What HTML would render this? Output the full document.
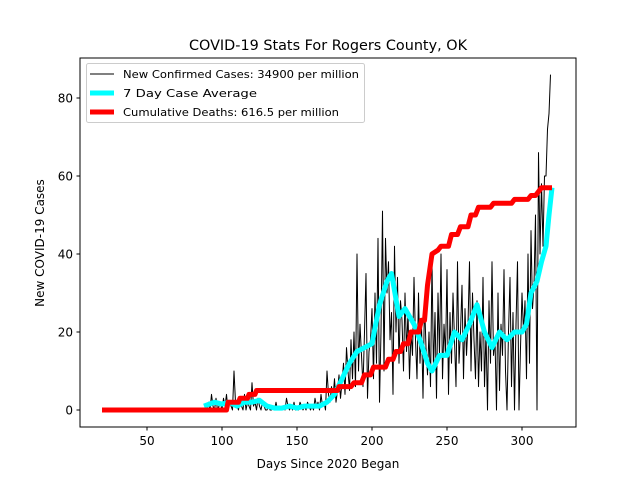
<!DOCTYPE html>
<html><head><meta charset="utf-8"><style>
body{margin:0;background:#fff;}
svg{display:block;font-family:"DejaVu Sans","Liberation Sans",sans-serif;}
</style></head><body>
<svg id="chart" width="640" height="480" xmlns="http://www.w3.org/2000/svg">
<rect width="640" height="480" fill="#fff"/>
<text x="328" y="50" text-anchor="middle" font-size="14.4">COVID-19 Stats For Rogers County, OK</text>
<g id="plot"></g>
<rect x="80" y="58" width="496" height="369" fill="none" stroke="#000" stroke-width="1"/>
<g id="ticks"></g>
<text x="328" y="468" text-anchor="middle" font-size="12">Days Since 2020 Began</text>
<text x="0" y="0" transform="translate(44,243) rotate(-90)" text-anchor="middle" font-size="12">New COVID-19 Cases</text>
<g>
<rect x="86.5" y="63.5" width="278" height="59" rx="2" fill="#fff" fill-opacity="0.8" stroke="#ccc"/>
<line x1="90" y1="74" x2="114" y2="74" stroke="#000" stroke-width="1"/>
<text x="123" y="78" font-size="11" textLength="236" lengthAdjust="spacingAndGlyphs">New Confirmed Cases: 34900 per million</text>
<line x1="90" y1="93" x2="114" y2="93" stroke="#00ffff" stroke-width="5"/>
<text x="123" y="97" font-size="11" textLength="134" lengthAdjust="spacingAndGlyphs">7 Day Case Average</text>
<line x1="90" y1="112" x2="114" y2="112" stroke="#ff0000" stroke-width="5"/>
<text x="123" y="116" font-size="11" textLength="216" lengthAdjust="spacingAndGlyphs">Cumulative Deaths: 616.5 per million</text>
</g>
</svg>
<script>
const caseStartDay = 88;
const cases = [0,1,0,2,0,4,1,0,3,0,1,2,
0,3,1,4,0,2,1,0,10,2,1,0,3,1,0,4,0,2,1,0,
7,1,2,0,3,1,0,2,1,0,
0,1,0,0,1,0,2,0,1,0,0,1,0,3,1,0,1,0,2,0,
1,0,2,1,0,1,0,2,1,0,1,0,3,1,2,0,4,1,2,0,
10,4,2,6,3,8,2,5,9,3,
7,12,4,16,10,5,18,8,20,6,
40,10,22,14,6,20,35,3,15,18,
26,8,30,12,44,2,20,51,10,44,
30,38,18,25,4,42,20,34,12,28,
23,10,30,15,25,8,20,14,34,18,
8,30,12,22,3,28,16,9,20,6,
38,10,25,3,30,14,40,8,22,14,
36,4,25,12,30,18,6,38,12,20,
32,8,26,14,22,38,10,30,18,8,
28,6,20,10,34,6,20,0,28,12,
38,14,18,0,30,5,22,14,36,10,
0,20,34,6,25,0,22,38,0,16,
30,20,28,8,40,12,46,26,32,50,
0,66,40,58,42,60,60,72,76,86];
const avgDays = [88,95,100,105,110,115,120,125,130,135,140,145,150,155,160,165,170,175,180,185,190,195,200,205,210,213,218,222,228,232,237,240,245,250,255,260,265,270,275,280,285,290,295,300,303,306,310,313,316,318,320];
const avgVals = [1,2,1.5,2,1,2,2,2.5,1,0.5,0.5,1,0.5,1,1,1,2,4,8,12,15,16,17,27,33,35,24,26,22,18,12,10,14,14,20,18,22,27,20,16,20,18,20,20,22,30,33,38,42,50,57];
const deathDays = [20,103,104,111,112,117,118,122,123,177,178,186,188,193,195,199,201,209,211,214,216,219,221,224,226,231,233,235,237,240,244,246,251,253,257,259,264,266,269,271,279,281,293,295,304,306,309,311,313,320];
const deathVals = [0,0,2,2,3,3,4,4,5,5,6,6,7,7,9,9,11,11,13,13,15,15,17,17,20,20,23,23,32,40,41,42,42,45,45,47,47,50,50,52,52,53,53,54,54,55,55,56,57,57];
const xTicks = [50,100,150,200,250,300];
const yTicks = [0,20,40,60,80];

const NS = "http://www.w3.org/2000/svg";
const xs = d => 72 + d * 1.5;
const ys = v => 410 - v * 3.9;
const plot = document.getElementById('plot');
const ticks = document.getElementById('ticks');

function poly(days, vals, color, w, name) {
  const p = document.createElementNS(NS, 'polyline');
  p.setAttribute('points', days.map((d, i) => xs(d).toFixed(1) + ',' + ys(vals[i]).toFixed(1)).join(' '));
  p.setAttribute('fill', 'none');
  p.setAttribute('stroke', color);
  p.setAttribute('stroke-width', w);
  p.setAttribute('stroke-linejoin', 'round');
  
  
  plot.appendChild(p);
}
const caseDays = cases.map((v, i) => caseStartDay + i);
poly(caseDays, cases, '#000', 1, 'new-cases-line');
poly(avgDays, avgVals, '#00ffff', 5, 'seven-day-average-line');
poly(deathDays, deathVals, '#ff0000', 5, 'cumulative-deaths-line');

xTicks.forEach(t => {
  const l = document.createElementNS(NS, 'line');
  l.setAttribute('x1', xs(t)); l.setAttribute('x2', xs(t));
  l.setAttribute('y1', 427); l.setAttribute('y2', 430.5);
  l.setAttribute('stroke', '#000');
  
  
  ticks.appendChild(l);
  const tx = document.createElementNS(NS, 'text');
  tx.setAttribute('x', xs(t)); tx.setAttribute('y', 445);
  tx.setAttribute('text-anchor', 'middle'); tx.setAttribute('font-size', '12');
  tx.textContent = t;
  
  
  ticks.appendChild(tx);
});
yTicks.forEach(t => {
  const l = document.createElementNS(NS, 'line');
  l.setAttribute('x1', 76.5); l.setAttribute('x2', 80);
  l.setAttribute('y1', ys(t)); l.setAttribute('y2', ys(t));
  l.setAttribute('stroke', '#000');
  
  
  ticks.appendChild(l);
  const tx = document.createElementNS(NS, 'text');
  tx.setAttribute('x', 73); tx.setAttribute('y', ys(t) + 4.5);
  tx.setAttribute('text-anchor', 'end'); tx.setAttribute('font-size', '12');
  tx.textContent = t;
  
  
  ticks.appendChild(tx);
});
</script>
</body></html>
